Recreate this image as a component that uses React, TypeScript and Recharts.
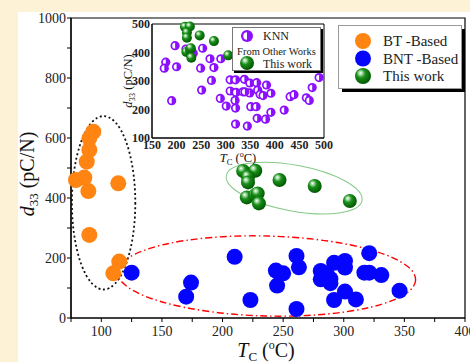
import React from "react";
import {
  ScatterChart,
  Scatter,
  XAxis,
  YAxis,
  ReferenceArea,
  ReferenceDot,
  Legend,
} from "recharts";

const SERIF = '"Liberation Serif", "Times New Roman", serif';

// main plot: Tc (°C) vs d33 (pC/N)
const btTc = [93.4, 90.1, 90.1, 88, 86, 79.1, 89.3, 114, 90.1, 114.8, 109.9];
const btD33 = [621, 599, 560, 521, 468, 460, 423, 449, 277, 188, 149];

const bntTc = [
  125, 174, 170, 210, 223, 244, 250, 245, 261, 263, 261, 281, 281, 286, 289,
  292, 289, 301, 301, 301, 292, 310, 321, 317, 321, 331, 346,
];
const bntD33 = [
  151, 118, 71, 204, 60, 158, 149, 108, 207, 169, 30, 157, 129, 146, 130, 184,
  116, 190, 168, 88, 60, 62, 216, 151, 151, 143, 91,
];

const thisWorkTc = [217, 227, 221, 221, 247, 276, 220, 227, 229, 230, 305];
const thisWorkD33 = [490, 491, 470, 452, 460, 440, 402, 410, 415, 382, 390];

// inset: KNN from other works
const knnTc = [
  197, 178, 175, 200, 253, 268, 290, 249, 276, 271, 251, 190, 289, 301, 309,
  320, 338, 309, 321, 335, 319, 320, 349, 363, 365, 349, 370, 376, 383, 392,
  351, 362, 364, 381, 392, 320, 344, 419, 431, 439, 464, 470, 476, 490, 219,
  234, 339,
];
const knnD33 = [
  424, 366, 345, 350, 415, 378, 378, 345, 347, 302, 268, 231, 239, 212, 304,
  304, 306, 265, 260, 262, 232, 205, 293, 294, 268, 258, 253, 249, 286, 257,
  210, 210, 169, 166, 190, 149, 142, 198, 245, 252, 241, 232, 277, 312, 412,
  397, 262,
];

const mainXTicks = [75, 100, 125, 150, 175, 200, 225, 250, 275, 300, 325, 350, 375, 400];
const mainYTicks = [0, 100, 200, 300, 400, 500, 600, 700, 800, 900, 1000];
const insetXTicks = [150, 200, 250, 300, 350, 400, 450, 500];
const insetYTicks = [100, 200, 300, 400, 500];

const mainNames = ["BT -Based", "BNT -Based", "This work"];
const insetNames = ["KNN", "From Other Works", "This work"];

const zip = (xs: number[], ys: number[]) => xs.map((tc, i) => ({ tc, d33: ys[i] }));
const btData = zip(btTc, btD33);
const bntData = zip(bntTc, bntD33);
const thisWorkData = zip(thisWorkTc, thisWorkD33);
const knnData = zip(knnTc, knnD33);

const ORANGE = "#ff8411";
const BLUE = "#0505ff";
const PURPLE = "#8a10ff";

// layout of the main chart
const W = 470;
const H = 362;
const M = { top: 18, right: 5, bottom: 14, left: 21 };
const Y_W = 50;
const X_H = 30;

// hand-drawn ellipses on the main plot (centre in data units, radii in px)
const ellipses = [
  { tc: 101.9, d33: 384, rx: 31.7, ry: 86.7, rot: 0, stroke: "#111", dash: "2 2.6", w: 1.8 },
  { tc: 236.4, d33: 140, rx: 149, ry: 40, rot: 1.5, stroke: "#ff0000", dash: "7 3 1.5 3", w: 1.4 },
  { tc: 259.1, d33: 433, rx: 69, ry: 23, rot: 10.5, stroke: "#86c986", dash: undefined, w: 1 },
];

function SphereGrad({ id }: { id: string }) {
  return (
    <radialGradient id={id} cx="40%" cy="38%" r="62%" fx="34%" fy="30%">
      <stop offset="0%" stopColor="#ffffff" />
      <stop offset="18%" stopColor="#a6dca6" />
      <stop offset="45%" stopColor="#1a8f1a" />
      <stop offset="100%" stopColor="#005800" />
    </radialGradient>
  );
}

const dot = (r: number, fill: string) => (p: any) =>
  <circle cx={p.cx} cy={p.cy} r={r} fill={fill} />;

const sphere = (r: number, id: string) => (p: any) =>
  <circle cx={p.cx} cy={p.cy} r={r} fill={`url(#${id})`} />;

function KnnMark({ cx, cy, r }: { cx: number; cy: number; r: number }) {
  const ir = r * 0.62;
  return (
    <g>
      <circle cx={cx} cy={cy} r={r} fill={PURPLE} />
      <path d={`M ${cx} ${cy - ir} A ${ir} ${ir} 0 0 0 ${cx} ${cy + ir} Z`} fill="#fff" />
    </g>
  );
}

function MainXTick({ x, y, payload }: any) {
  const v = payload.value;
  return (
    <g>
      <line x1={x} x2={x} y1={y} y2={y + 4} stroke="#000" />
      {v % 50 === 0 && (
        <text x={x} y={y + 18} textAnchor="middle" fontSize={14} fontFamily={SERIF} fill="#222">
          {v}
        </text>
      )}
    </g>
  );
}

function MainYTick({ x, y, payload }: any) {
  const v = payload.value;
  return (
    <g>
      <line x1={x - 4} x2={x} y1={y} y2={y} stroke="#000" />
      {v % 200 === 0 && (
        <text x={x - 5} y={y} dy="0.35em" textAnchor="end" fontSize={14} fontFamily={SERIF} fill="#222">
          {v}
        </text>
      )}
    </g>
  );
}

function InsetXTick({ x, y, payload }: any) {
  return (
    <text x={x} y={y + 11} textAnchor="middle" fontSize={12} fontWeight="bold" fontFamily={SERIF} fill="#222">
      {payload.value}
    </text>
  );
}

function InsetYTick({ x, y, payload }: any) {
  return (
    <text x={x - 2} y={y} dy="0.35em" textAnchor="end" fontSize={12} fontWeight="bold" fontFamily={SERIF} fill="#222">
      {payload.value}
    </text>
  );
}

function MainLegend() {
  const rows = [16, 33.5, 51];
  return (
    <svg width={128} height={68} style={{ display: "block" }}>
      <defs>
        <SphereGrad id="sphLegMain" />
      </defs>
      <rect x={4} y={4} width={123} height={63} fill="#000" />
      <rect x={0.5} y={0.5} width={123} height={63} fill="#fff" stroke="#9a9a9a" />
      <circle cx={25} cy={rows[0]} r={8} fill={ORANGE} />
      <circle cx={25} cy={rows[1]} r={8} fill={BLUE} />
      <circle cx={25} cy={rows[2]} r={8} fill="url(#sphLegMain)" />
      {mainNames.map((n, i) => (
        <text key={n} x={45} y={rows[i] + 5} fontSize={15} fontFamily={SERIF} fill="#222">
          {n}
        </text>
      ))}
    </svg>
  );
}

function InsetLegend() {
  return (
    <svg width={92} height={47} style={{ display: "block" }}>
      <defs>
        <SphereGrad id="sphLegInset" />
      </defs>
      <rect x={2} y={2} width={89} height={44} fill="#000" />
      <rect x={0.5} y={0.5} width={88} height={43} fill="#fff" stroke="#777" />
      <KnnMark cx={15} cy={9} r={6} />
      <text x={31} y={13} fontSize={12} fontFamily={SERIF} fill="#222">{insetNames[0]}</text>
      <text x={44.5} y={27.5} textAnchor="middle" fontSize={10.5} fontFamily={SERIF} fill="#222">
        {insetNames[1]}
      </text>
      <circle cx={15} cy={36} r={7} fill="url(#sphLegInset)" />
      <text x={31} y={40.5} fontSize={12} fontFamily={SERIF} fill="#222">{insetNames[2]}</text>
    </svg>
  );
}

export default function App() {
  return (
    <div style={{ position: "absolute", left: 0, top: 0, width: W, height: H, background: "#fdf1d6" }}>
      <div style={{ position: "absolute", left: 18, top: 12, width: W - 18, height: H - 12, background: "#fff" }} />

      <div style={{ position: "absolute", left: 0, top: 0 }}>
        <ScatterChart width={W} height={H} margin={M}>
          <defs>
            <SphereGrad id="sphMain" />
          </defs>
          <XAxis
            type="number"
            dataKey="tc"
            domain={[75, 400]}
            ticks={mainXTicks}
            interval={0}
            tick={<MainXTick />}
            tickLine={false}
            tickSize={0}
            tickMargin={0}
            height={X_H}
            axisLine={{ stroke: "#000", strokeWidth: 1.2 }}
          />
          <YAxis
            type="number"
            dataKey="d33"
            domain={[0, 1000]}
            ticks={mainYTicks}
            interval={0}
            tick={<MainYTick />}
            tickLine={false}
            tickSize={0}
            tickMargin={0}
            width={Y_W}
            axisLine={{ stroke: "#000", strokeWidth: 1.2 }}
          />
          <ReferenceArea x1={75} x2={400} y1={0} y2={1000} fill="none" stroke="#000" strokeWidth={1.2} />
          {ellipses.map((e, i) => (
            <ReferenceDot
              key={i}
              x={e.tc}
              y={e.d33}
              r={0}
              shape={(p: any) => (
                <ellipse
                  cx={p.cx}
                  cy={p.cy}
                  rx={e.rx}
                  ry={e.ry}
                  transform={`rotate(${e.rot} ${p.cx} ${p.cy})`}
                  fill="none"
                  stroke={e.stroke}
                  strokeWidth={e.w}
                  strokeDasharray={e.dash}
                />
              )}
            />
          ))}
          <Scatter name={mainNames[0]} data={btData} fill={ORANGE} shape={dot(8, ORANGE)} isAnimationActive={false} />
          <Scatter name={mainNames[1]} data={bntData} fill={BLUE} shape={dot(8, BLUE)} isAnimationActive={false} />
          <Scatter name={mainNames[2]} data={thisWorkData} fill="#0a7a0a" shape={sphere(7, "sphMain")} isAnimationActive={false} />
          <Legend
            layout="horizontal"
            verticalAlign="middle"
            align="center"
            wrapperStyle={{ left: 338, top: 25, width: 128, height: 68 }}
            content={() => <MainLegend />}
          />
          <text transform="rotate(-90)" x={-174} y={34} textAnchor="middle" fontSize={20} fontFamily={SERIF} fill="#111">
            <tspan fontStyle="italic">d</tspan>
            <tspan fontSize={13} dy={4}>33</tspan>
            <tspan dy={-4}> (pC/N)</tspan>
          </text>
          <text x={266} y={357} textAnchor="middle" fontSize={20} fontFamily={SERIF} fill="#111">
            <tspan fontStyle="italic">T</tspan>
            <tspan fontSize={13} dy={4}>C</tspan>
            <tspan dy={-4}> (</tspan>
            <tspan fontSize={12} dy={-8}>o</tspan>
            <tspan dy={8}>C)</tspan>
          </text>
        </ScatterChart>
      </div>

      <div style={{ position: "absolute", left: 100, top: 14 }}>
        <ScatterChart width={240} height={152} margin={{ top: 10, right: 16, bottom: 8, left: 22 }}>
          <defs>
            <SphereGrad id="sphInset" />
          </defs>
          <XAxis
            type="number"
            dataKey="tc"
            domain={[150, 500]}
            ticks={insetXTicks}
            interval={0}
            tick={<InsetXTick />}
            tickLine={false}
            tickSize={0}
            tickMargin={0}
            height={20}
            axisLine={{ stroke: "#000" }}
          />
          <YAxis
            type="number"
            dataKey="d33"
            domain={[100, 500]}
            ticks={insetYTicks}
            interval={0}
            tick={<InsetYTick />}
            tickLine={false}
            tickSize={0}
            tickMargin={0}
            width={30}
            axisLine={{ stroke: "#000" }}
          />
          <ReferenceArea x1={150} x2={500} y1={100} y2={500} fill="#fff" fillOpacity={1} stroke="#000" />
          <Scatter
            name={insetNames[0]}
            data={knnData}
            fill={PURPLE}
            shape={(p: any) => <KnnMark cx={p.cx} cy={p.cy} r={4.6} />}
            isAnimationActive={false}
          />
          <Scatter name={insetNames[2]} data={thisWorkData} fill="#0a7a0a" shape={sphere(5, "sphInset")} isAnimationActive={false} />
          <Legend
            layout="horizontal"
            verticalAlign="middle"
            align="center"
            wrapperStyle={{ left: 132, top: 13, width: 92, height: 47 }}
            content={() => <InsetLegend />}
          />
          <text transform="rotate(-90)" x={-67} y={32} textAnchor="middle" fontSize={12.5} fontFamily={SERIF} fill="#111">
            <tspan fontStyle="italic">d</tspan>
            <tspan fontSize={8.5} dy={3}>33</tspan>
            <tspan dy={-3}> (pC/N)</tspan>
          </text>
          <text x={138} y={148} textAnchor="middle" fontSize={12.5} fontFamily={SERIF} fill="#111">
            <tspan fontStyle="italic">T</tspan>
            <tspan fontSize={8.5} dy={3}>C</tspan>
            <tspan dy={-3}> (</tspan>
            <tspan fontSize={8} dy={-5}>o</tspan>
            <tspan dy={5}>C)</tspan>
          </text>
        </ScatterChart>
      </div>
    </div>
  );
}
